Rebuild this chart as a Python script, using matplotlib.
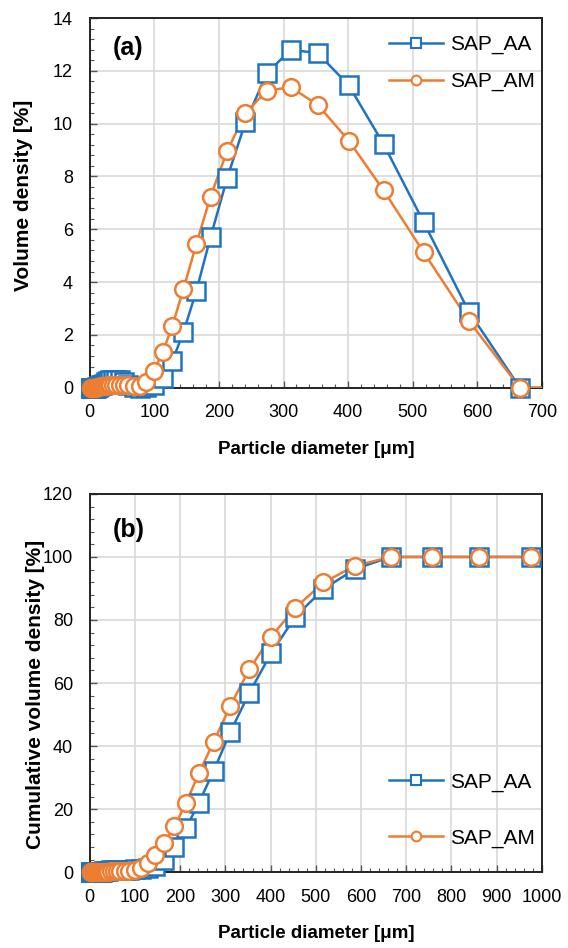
import matplotlib
matplotlib.use("Agg")
import matplotlib.pyplot as plt
from matplotlib.ticker import MultipleLocator, AutoMinorLocator

plt.rcParams['font.family'] = ['Liberation Sans', 'DejaVu Sans']

# particle diameter classes [um]
diameter = [2.0, 2.2, 2.5, 2.8, 3.2, 3.7, 4.2, 4.7, 5.4, 6.1, 6.9, 7.9, 8.9, 10.1,
            11.5, 13.1, 14.8, 16.9, 19.1, 21.7, 24.7, 28.0, 31.8, 36.1, 41.0, 46.5,
            52.8, 59.9, 68.0, 77.2, 87.6, 99.4, 113, 128, 145, 165, 187, 213, 241,
            274, 311, 353, 401, 455, 517, 587, 666, 757, 860, 976]

# volume density [%]
dens_aa = [0, 0, 0, 0, 0, 0, 0, 0, 0, 0, 0, 0, 0, 0,
           0.02, 0.04, 0.06, 0.09, 0.12, 0.16, 0.20, 0.24, 0.28, 0.30, 0.30, 0.28,
           0.22, 0.12, 0.04, 0.0, 0.02, 0.1, 0.35, 1.02, 2.1, 3.66, 5.7, 7.96, 10.05,
           11.9, 12.8, 12.67, 11.45, 9.22, 6.27, 2.88, 0, 0, 0, 0]
dens_am = [0, 0, 0, 0, 0, 0, 0, 0, 0, 0, 0, 0, 0, 0,
           0.02, 0.03, 0.04, 0.05, 0.06, 0.07, 0.08, 0.09, 0.10, 0.11, 0.12, 0.12,
           0.11, 0.09, 0.07, 0.06, 0.2, 0.65, 1.34, 2.35, 3.73, 5.44, 7.24, 8.98, 10.39,
           11.25, 11.38, 10.71, 9.36, 7.47, 5.13, 2.53, 0, 0, 0, 0]

# cumulative volume density [%]
cum_aa = [0, 0, 0, 0, 0, 0, 0, 0, 0, 0, 0, 0, 0, 0,
          0, 0, 0, 0, 0, 0.05, 0.1, 0.2, 0.3, 0.4, 0.5, 0.6,
          0.7, 0.8, 0.8, 0.8, 0.8, 0.9, 1.0, 1.3, 2.0, 4.0, 8.0, 14.0, 21.9,
          32.1, 44.5, 56.9, 69.4, 81.1, 89.8, 96.2, 100, 100, 100, 100]
cum_am = [0, 0, 0, 0, 0, 0, 0, 0, 0, 0, 0, 0, 0, 0,
          0, 0, 0, 0, 0.05, 0.1, 0.1, 0.15, 0.15, 0.2, 0.2, 0.25,
          0.25, 0.3, 0.3, 0.3, 0.5, 0.8, 1.3, 3.0, 5.6, 9.2, 14.5, 21.9, 31.3,
          41.3, 52.8, 64.4, 74.7, 83.9, 91.9, 97.2, 100, 100, 100, 100]

labels = ['SAP_AA', 'SAP_AM']
colors = ['#1f74c2', '#ed7d31']
markers = ['s', 'o']
marker_sizes = [13, 12]


def draw_panel(ax, ys, xmax, ymax, ystep, tag, tag_y, legend_loc, legend_anchor, spacing):
    for y, lab, col, mk, ms in zip(ys, labels, colors, markers, marker_sizes):
        # line clipped to the axes, markers drawn like excel (not cut at spines)
        ax.plot(diameter, y, color=col, lw=1.8, zorder=3)
        xs = [d for d in diameter if d <= xmax]
        yy = [v for d, v in zip(diameter, y) if d <= xmax]
        ax.plot(xs, yy, ls='none', marker=mk, ms=ms, mfc='white', mec=col,
                mew=1.8, clip_on=False, zorder=4)
        ax.plot([], [], color=col, lw=1.8, marker=mk, ms=7, mfc='white',
                mec=col, mew=1.5, label=lab)
    ax.set_xlim(0, xmax)
    ax.set_ylim(0, ymax)
    ax.xaxis.set_major_locator(MultipleLocator(100))
    ax.xaxis.set_minor_locator(AutoMinorLocator(5))
    ax.yaxis.set_major_locator(MultipleLocator(ystep))
    ax.yaxis.set_minor_locator(AutoMinorLocator(5))
    ax.grid(True, which='major', color='#d9d9d9', lw=1.2, zorder=0)
    ax.set_axisbelow(True)
    ax.tick_params(which='both', direction='in', labelsize=13, color='#555555', pad=12)
    ax.tick_params(which='major', length=5, width=1)
    ax.tick_params(which='minor', length=3, width=0.8)
    for s in ax.spines.values():
        s.set_linewidth(1.4)
        s.set_color('#222222')
    ax.set_xlabel('Particle diameter [μm]', fontsize=13.5, fontweight='bold', labelpad=14)
    ax.text(0.05, tag_y, tag, transform=ax.transAxes, fontsize=18,
            fontweight='bold', va='center')
    ax.legend(loc=legend_loc, bbox_to_anchor=legend_anchor, frameon=False,
              fontsize=15, handlelength=2.6, labelspacing=spacing,
              handletextpad=0.3)


fig = plt.figure(figsize=(5.68, 9.48), dpi=100)
ax1 = fig.add_axes([0.158, 0.591, 0.796, 0.390])
ax2 = fig.add_axes([0.158, 0.080, 0.796, 0.399])

draw_panel(ax1, [dens_aa, dens_am], 700, 14, 2, '(a)', 0.92, 'upper right',
           (1.025, 1.005), 0.85)
ax1.set_ylabel('Volume density [%]', fontsize=15, fontweight='bold')
ax1.yaxis.set_label_coords(-0.126, 0.52)

draw_panel(ax2, [cum_aa, cum_am], 1000, 120, 20, '(b)', 0.905, 'lower right',
           (1.025, 0.015), 1.75)
ax2.set_ylabel('Cumulative volume density [%]', fontsize=15, fontweight='bold')
ax2.yaxis.set_label_coords(-0.10, 0.47)

fig.savefig('out.png', dpi=100)
